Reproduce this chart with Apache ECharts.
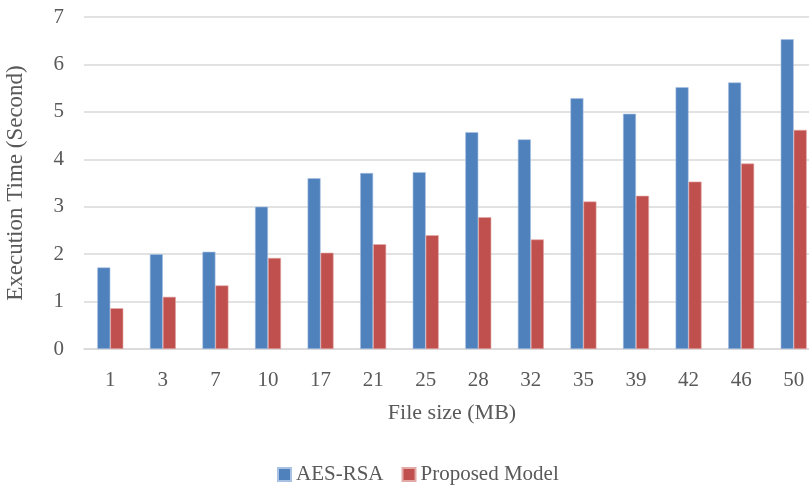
<!DOCTYPE html>
<html><head><meta charset="utf-8">
<script src="https://cdn.jsdelivr.net/npm/echarts@6/dist/echarts.min.js"></script>
<style>html,body{margin:0;padding:0;background:#fff}#c{width:809px;height:485px}</style>
</head><body><div id="c"></div>
<script>
const categories = ['1','3','7','10','17','21','25','28','32','35','39','42','46','50'];
const aesRsa = [1.72,2.00,2.05,3.00,3.60,3.71,3.73,4.57,4.42,5.29,4.96,5.52,5.62,6.53];
const proposed = [0.86,1.10,1.34,1.92,2.03,2.21,2.40,2.78,2.31,3.11,3.23,3.53,3.91,4.62];
const seriesNames = ['AES-RSA','Proposed Model'];
const font = 'Liberation Serif';
const txt = '#595959';
const chart = echarts.init(document.getElementById('c'));
chart.setOption({
  animation:false,
  textStyle:{fontFamily:font},
  grid:{left:84,width:736,top:17,height:332,containLabel:false,outerBoundsMode:'none'},
  legend:{top:459,left:272,itemWidth:13,itemHeight:13,itemGap:18,icon:'rect',
    textStyle:{fontFamily:font,fontSize:21,color:txt},data:seriesNames},
  xAxis:{type:'category',data:categories,
    axisLine:{lineStyle:{color:'#d9d9d9',width:1.5}},axisTick:{show:false},
    axisLabel:{fontFamily:font,fontSize:21,color:txt,margin:21},
    name:'File size (MB)',nameLocation:'middle',nameGap:53,
    nameTextStyle:{fontFamily:font,fontSize:22,color:txt}},
  yAxis:{type:'value',min:0,max:7,interval:1,
    axisLine:{show:false},axisTick:{show:false},
    splitLine:{lineStyle:{color:'#d9d9d9',width:1.5}},
    axisLabel:{fontFamily:font,fontSize:21,color:txt,margin:20},
    name:'Execution Time (Second)',nameLocation:'middle',nameGap:57,
    nameTextStyle:{fontFamily:font,fontSize:23,color:txt}},
  series:[
    {name:seriesNames[0],type:'bar',data:aesRsa,barWidth:13,barGap:'0%',
      itemStyle:{color:'#4F81BD',borderColor:'#a9c1e3',borderWidth:0.6}},
    {name:seriesNames[1],type:'bar',data:proposed,barWidth:13,barGap:'0%',
      itemStyle:{color:'#C0504D',borderColor:'#e3a9a7',borderWidth:0.6}}
  ]
});
</script></body></html>
